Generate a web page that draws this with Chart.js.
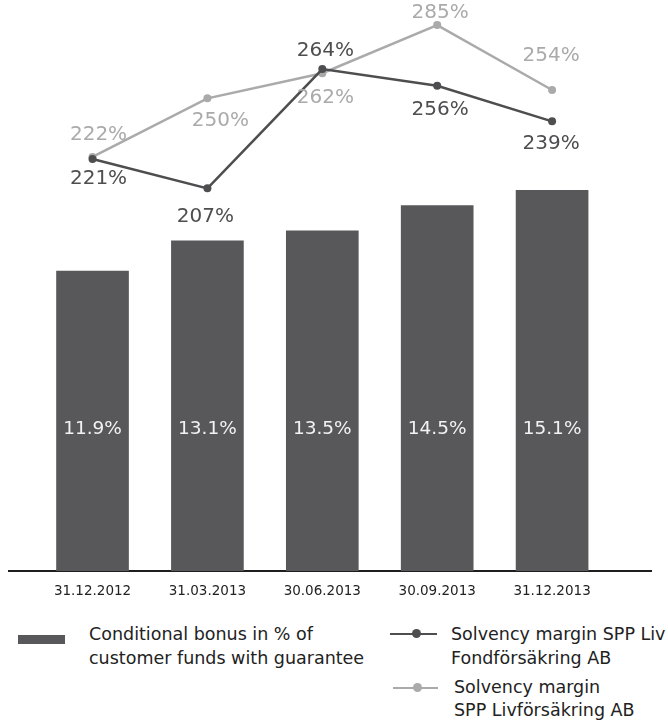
<!DOCTYPE html>
<html>
<head>
<meta charset="utf-8">
<script src="https://cdn.jsdelivr.net/npm/chart.js@4.4.1/dist/chart.umd.min.js"></script>
<style>
body { margin: 0; background: #fff; font-family: "DejaVu Sans", sans-serif; color: #222; }
#wrap { position: relative; width: 668px; height: 720px; overflow: hidden; }
#myChart { position: absolute; left: 0; top: 0; }
.lg-text { position: absolute; font-size: 17.5px; line-height: 24px; white-space: nowrap; color: #222; }
.lg-box { position: absolute; background: #58585a; }
.lg-line { position: absolute; height: 2px; }
.lg-dot { position: absolute; width: 9px; height: 9px; border-radius: 50%; }
</style>
</head>
<body>
<div id="wrap">
	<canvas id="myChart" width="668" height="610"></canvas>

	<div class="lg-box" style="left:18px; top:635px; width:47px; height:9px;"></div>
	<div class="lg-text" style="left:89px; top:622px;">Conditional bonus in % of<br>customer funds with guarantee</div>

	<div class="lg-line" style="left:390px; top:633px; width:47px; background:#4e4e50;"></div>
	<div class="lg-dot" style="left:412px; top:629px; background:#4e4e50;"></div>
	<div class="lg-text" style="left:451px; top:622px;">Solvency margin SPP Liv<br>Fondförsäkring AB</div>

	<div class="lg-line" style="left:393px; top:687px; width:45px; background:#aaaaab;"></div>
	<div class="lg-dot" style="left:413px; top:683px; background:#aaaaab;"></div>
	<div class="lg-text" style="left:454px; top:676px; line-height:23px;">Solvency margin<br>SPP Livförsäkring AB</div>
</div>

<script>
let labels = ['31.12.2012', '31.03.2013', '30.06.2013', '30.09.2013', '31.12.2013'];
let bonus = [11.9, 13.1, 13.5, 14.5, 15.1];
let solvencyFond = [221, 207, 264, 256, 239];
let solvencyLiv = [222, 250, 262, 285, 254];

let darkGrey = '#4e4e50';
let lightGrey = '#aaaaab';
let barGrey = '#58585a';

// put each value on its category index of the linear x axis
let toPoints = (arr) => arr.map((v, i) => ({ x: i, y: v }));

// draws the value next to every bar / point
let valueLabels = {
	id: 'valueLabels',
	afterDatasetsDraw(chart) {
		let c = chart.ctx;
		chart.data.datasets.forEach((ds, i) => {
			let lab = ds.valueLabel;
			let meta = chart.getDatasetMeta(i);
			meta.data.forEach((el, j) => {
				let value = ds.data[j].y;
				let x = el.x + (lab.dx ? lab.dx[j] : 0);
				let y = lab.fromBase ? el.base - lab.fromBase : el.y + lab.dy[j];
				y = Math.max(y, 13); // keep it inside the canvas
				c.save();
				c.font = lab.font;
				c.fillStyle = lab.color;
				c.textAlign = 'center';
				c.textBaseline = 'middle';
				c.fillText(lab.format(value), x, y);
				c.restore();
			});
		});
	}
};

let ctx = document.getElementById('myChart').getContext('2d');

let myChart = new Chart(ctx, {
	data: {
		datasets: [{
			type: 'line',
			label: 'Solvency margin SPP Liv Fondförsäkring AB',
			data: toPoints(solvencyFond),
			yAxisID: 'y2',
			order: 1,
			borderColor: darkGrey,
			backgroundColor: darkGrey,
			borderWidth: 2.5,
			pointRadius: 4,
			pointBackgroundColor: darkGrey,
			pointBorderWidth: 0,
			tension: 0,
			valueLabel: {
				font: '20px "DejaVu Sans"',
				color: darkGrey,
				dx: [6, -2, 3, 3, -1],
				dy: [20, 28, -18, 24, 22],
				format: (v) => v + '%'
			}
		}, {
			type: 'line',
			label: 'Solvency margin SPP Livförsäkring AB',
			data: toPoints(solvencyLiv),
			yAxisID: 'y2',
			order: 2,
			borderColor: lightGrey,
			backgroundColor: lightGrey,
			borderWidth: 2.5,
			pointRadius: 4,
			pointBackgroundColor: lightGrey,
			pointBorderWidth: 0,
			tension: 0,
			valueLabel: {
				font: '20px "DejaVu Sans"',
				color: lightGrey,
				dx: [6, 13, 3, 3, -1],
				dy: [-22, 22, 25, -20, -34],
				format: (v) => v + '%'
			}
		}, {
			type: 'bar',
			label: 'Conditional bonus in % of customer funds with guarantee',
			data: toPoints(bonus),
			yAxisID: 'y',
			order: 3,
			backgroundColor: barGrey,
			barThickness: 72,
			valueLabel: {
				font: '18.5px "DejaVu Sans"',
				color: '#f2f2f2',
				fromBase: 142,
				format: (v) => v.toFixed(1) + '%'
			}
		}]
	},
	plugins: [valueLabels],
	options: {
		responsive: false,
		animation: false,
		layout: {
			padding: { left: 9, right: 17, top: 10, bottom: 10 }
		},
		plugins: {
			legend: { display: false },
			tooltip: { enabled: false }
		},
		scales: {
			x: {
				type: 'linear',
				offset: false,
				min: -0.727,
				max: 4.861,
				grid: { display: false, drawTicks: false },
				border: { display: true, color: '#1e1e1e', width: 2 },
				afterBuildTicks: (scale) => {
					scale.ticks = labels.map((l, i) => ({ value: i }));
				},
				afterFit: (scale) => {
					scale.height = 29;
				},
				ticks: {
					padding: 12,
					color: '#222',
					font: { family: 'DejaVu Sans', size: 13.5 },
					callback: (value) => labels[value]
				}
			},
			y: {
				display: false,
				min: 0,
				max: 22.26
			},
			y2: {
				display: false,
				min: 24.2,
				max: 292.2
			}
		}
	}
});
</script>
</body>
</html>
